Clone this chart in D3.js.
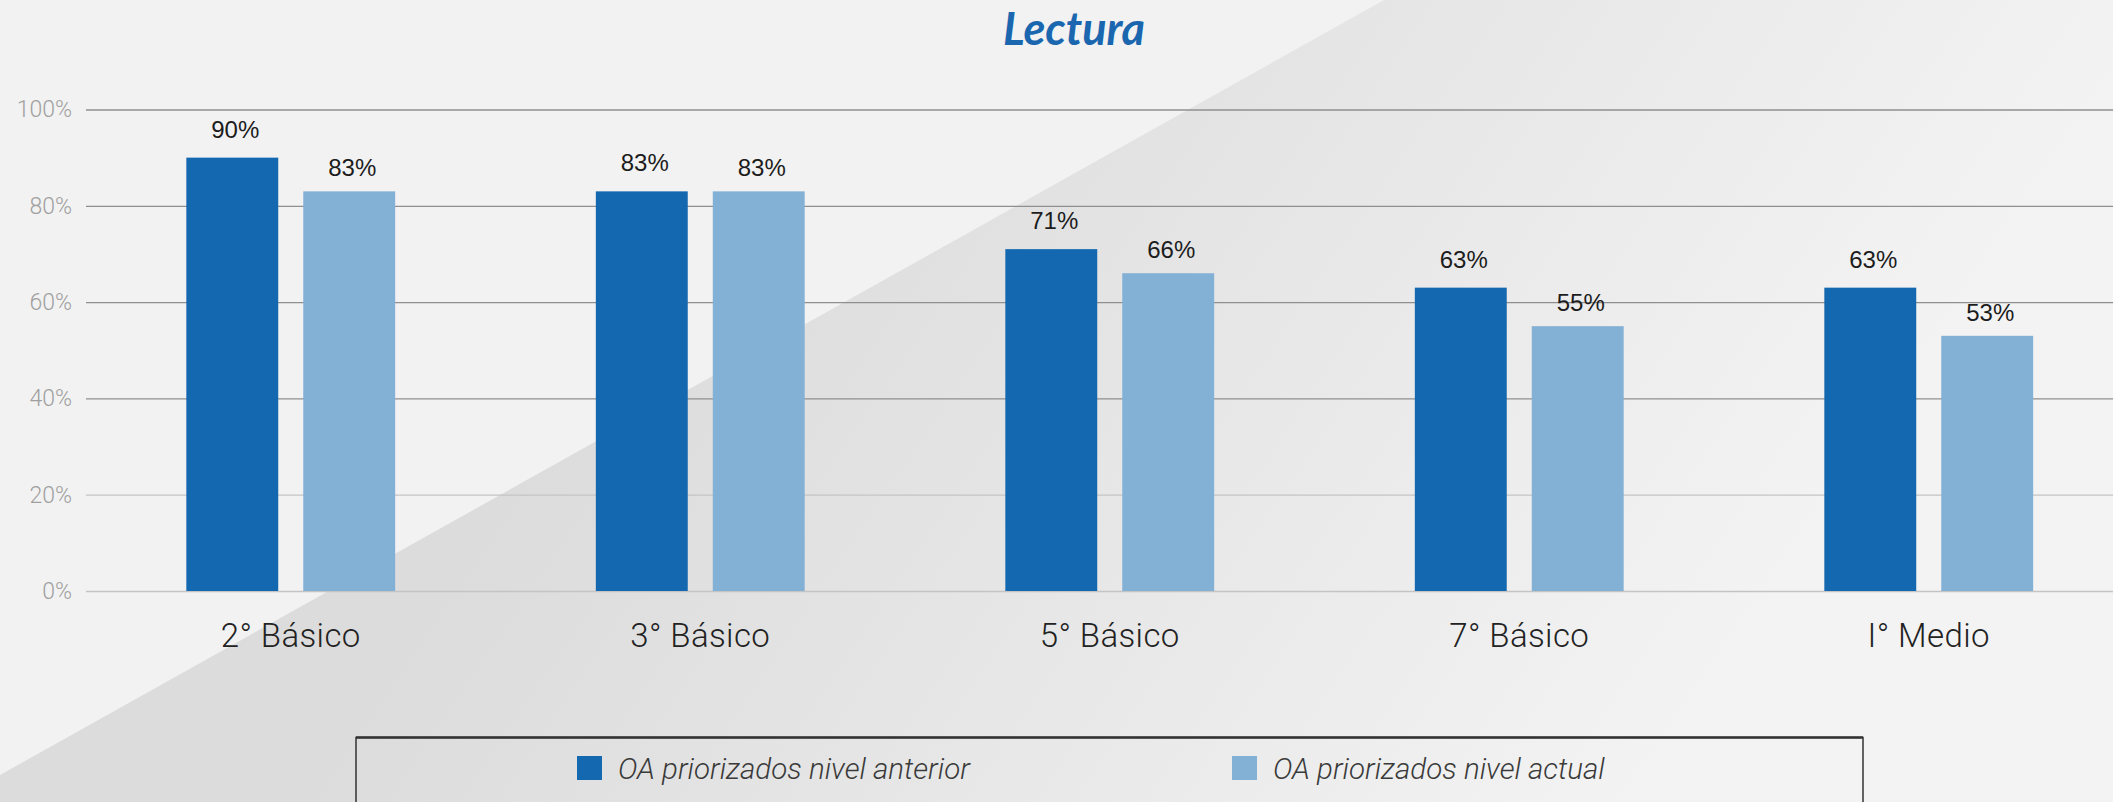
<!DOCTYPE html>
<html>
<head>
<meta charset="utf-8">
<script src="https://cdnjs.cloudflare.com/ajax/libs/d3/7.8.5/d3.min.js"></script>
<style>
  html, body { margin: 0; padding: 0; background: #f2f2f2; overflow: hidden; }
  svg { display: block; }
</style>
</head>
<body>
<div id="chart"></div>
<script>
// chart data
var categories = ["2° Básico", "3° Básico", "5° Básico", "7° Básico", "I° Medio"];
var seriesNames = ["OA priorizados nivel anterior", "OA priorizados nivel actual"];
var anterior = [90, 83, 71, 63, 63];
var actual = [83, 83, 66, 55, 53];
var yTicks = [0, 20, 40, 60, 80, 100];
var title = "Lectura";

var colors = ["#1468b0", "#83b0d5"];
var labelOffset = [20, 15];

var W = 2113, H = 802;
var margin = {top: 109.5, left: 86, bottom: 802 - 591};
var plotRight = 2133.5;

var svg = d3.select("#chart")
  .append("svg")
    .attr("width", W)
    .attr("height", H);

// background with the diagonal grey band
var defs = svg.append("defs");
var grad = defs.append("linearGradient")
  .attr("id", "band")
  .attr("gradientUnits", "userSpaceOnUse")
  .attr("x1", 581).attr("y1", 392)
  .attr("x2", 1494).attr("y2", 1008);
grad.append("stop").attr("offset", 0).attr("stop-color", "#dcdcdc");
grad.append("stop").attr("offset", 1).attr("stop-color", "#f3f3f3");

svg.append("rect")
  .attr("width", W).attr("height", H)
  .attr("fill", "#f2f2f2");
svg.append("path")
  .attr("d", "M1384,0 L2113,0 L2113,802 L0,802 L0,775 Z")
  .attr("fill", "url(#band)");

// scales
var y = d3.scaleLinear()
  .domain([0, 100])
  .range([591, margin.top]);

var x0 = d3.scaleBand()
  .domain(categories)
  .range([margin.left, plotRight])
  .paddingInner(0.49)
  .paddingOuter(0.245);

var x1 = d3.scaleBand()
  .domain([0, 1])
  .range([0, x0.bandwidth()])
  .paddingInner(0.214);

// Y axis + gridlines
var yAxis = svg.append("g")
  .attr("transform", "translate(" + margin.left + ",0)")
  .call(d3.axisLeft(y)
    .tickValues(yTicks)
    .tickSize(-(plotRight - margin.left))
    .tickPadding(14)
    .tickFormat(function(d) { return d + "%"; }));
yAxis.select(".domain").remove();
yAxis.selectAll("line")
  .attr("stroke", function(d) { return d <= 20 ? "#c4c4c4" : "#8f8f8f"; })
  .attr("stroke-width", 1.3);
yAxis.selectAll("text")
  .attr("fill", "#a0a0a0")
  .style("font-family", "Roboto, sans-serif")
  .style("font-weight", 300)
  .style("font-size", "23px");

// bars
var rows = categories.map(function(c, i) {
  return {cat: c, vals: [anterior[i], actual[i]]};
});

var groups = svg.selectAll(".grp")
  .data(rows)
  .enter()
  .append("g")
    .attr("class", "grp")
    .attr("transform", function(d) { return "translate(" + x0(d.cat) + ",0)"; });

groups.selectAll("rect")
  .data(function(d) { return d.vals.map(function(v, k) { return {k: k, v: v}; }); })
  .enter()
  .append("rect")
    .attr("x", function(d) { return x1(d.k); })
    .attr("y", function(d) { return y(d.v); })
    .attr("width", x1.bandwidth())
    .attr("height", function(d) { return y(0) - y(d.v); })
    .attr("fill", function(d) { return colors[d.k]; });

groups.selectAll("text")
  .data(function(d) { return d.vals.map(function(v, k) { return {k: k, v: v}; }); })
  .enter()
  .append("text")
    .attr("x", function(d) { return x1(d.k) + x1.bandwidth() / 2 + 3; })
    .attr("y", function(d) { return y(d.v) - labelOffset[d.k]; })
    .attr("text-anchor", "middle")
    .attr("fill", "#1c1c1c")
    .style("font-family", "'Liberation Sans', Arial, sans-serif")
    .style("font-size", "24px")
    .text(function(d) { return d.v + "%"; });

// X axis labels
var xAxis = svg.append("g")
  .attr("transform", "translate(0," + y(0) + ")")
  .call(d3.axisBottom(x0).tickSize(0).tickPadding(33));
xAxis.select(".domain").remove();
xAxis.selectAll("text")
  .attr("fill", "#222")
  .style("font-family", "Roboto, sans-serif")
  .style("font-weight", 300)
  .style("font-size", "33px")
  .style("letter-spacing", "0.4px");

// title
svg.append("text")
  .attr("x", 1074)
  .attr("y", 45)
  .attr("text-anchor", "middle")
  .attr("fill", "#1a67b0")
  .style("font-family", "Lato, sans-serif")
  .style("font-weight", 700)
  .style("font-style", "italic")
  .style("font-size", "45px")
  .text(title);

// legend
var legend = svg.append("g");
legend.append("rect")
  .attr("x", 356).attr("y", 737.5)
  .attr("width", 1863 - 356).attr("height", 120)
  .attr("fill", "none")
  .attr("stroke", "#333")
  .attr("stroke-width", 1.5);
legend.append("line")
  .attr("x1", 356).attr("x2", 1863)
  .attr("y1", 737.5).attr("y2", 737.5)
  .attr("stroke", "#333")
  .attr("stroke-width", 2.5);

var legendX = [577, 1232];
var items = legend.selectAll(".item")
  .data(seriesNames)
  .enter()
  .append("g")
    .attr("class", "item")
    .attr("transform", function(d, i) { return "translate(" + legendX[i] + ",0)"; });
items.append("rect")
  .attr("x", 0).attr("y", 756)
  .attr("width", 25).attr("height", 24)
  .attr("fill", function(d, i) { return colors[i]; });
items.append("text")
  .attr("x", 41).attr("y", 779)
  .attr("fill", "#3a3a3a")
  .style("font-family", "Roboto, sans-serif")
  .style("font-weight", 300)
  .style("font-style", "italic")
  .style("font-size", "29.5px")
  .text(function(d) { return d; });
</script>
</body>
</html>
